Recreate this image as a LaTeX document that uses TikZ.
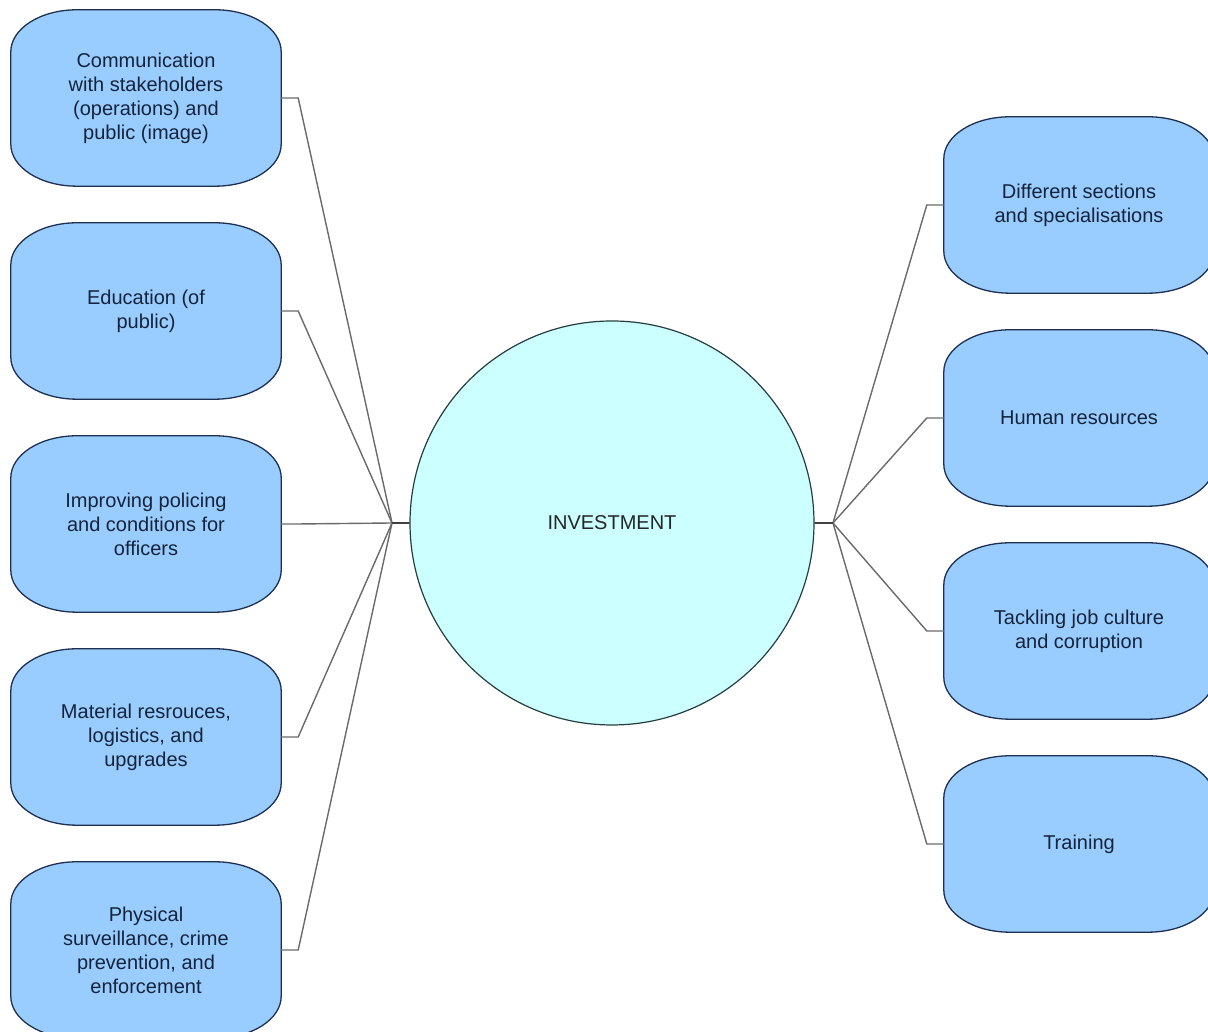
\documentclass[tikz,border=0pt]{standalone}
\usepackage{fontspec}
\setmainfont{Liberation Sans}
\usetikzlibrary{backgrounds}
\definecolor{boxfill}{HTML}{99CCFF}
\definecolor{boxedge}{HTML}{1E3050}
\definecolor{hubfill}{HTML}{CCFFFF}
\definecolor{hubedge}{HTML}{263D3D}
\definecolor{wire}{HTML}{6A6A6A}
\definecolor{ink}{HTML}{15243A}
\tikzset{
  topic/.style={minimum width=270pt, minimum height=176pt, inner sep=0pt,
    align=center, text=ink, font=\fontsize{20}{24}\selectfont},
  hub/.style={circle, minimum size=404pt, inner sep=0pt, fill=hubfill,
    draw=hubedge, line width=1.2pt, text=black!85,
    font=\fontsize{20}{24}\selectfont},
  boxline/.style={fill=boxfill, draw=boxedge, line width=1.3pt},
  wireline/.style={draw=wire, line width=1.4pt},
}
% rounded box with elliptical corners around a named node
\newcommand\softbox[1]{%
  \path[boxline] ([xshift=66pt]#1.north west) -- ([xshift=-66pt]#1.north east)
    arc[start angle=90, end angle=0, x radius=66pt, y radius=42pt]
    -- ([yshift=42pt]#1.south east)
    arc[start angle=0, end angle=-90, x radius=66pt, y radius=42pt]
    -- ([xshift=66pt]#1.south west)
    arc[start angle=270, end angle=180, x radius=66pt, y radius=42pt]
    -- ([yshift=-42pt]#1.north west)
    arc[start angle=180, end angle=90, x radius=66pt, y radius=42pt] -- cycle;}
\begin{document}
\begin{tikzpicture}[x=1pt, y=1pt]
\useasboundingbox (0,0) rectangle (1208,1032);

\node[hub] (inv) at (612,509) {INVESTMENT};

\node[topic] (l1) at (146,934) {Communication\\with stakeholders\\(operations) and\\public (image)};
\node[topic] (l2) at (146,721) {Education (of\\public)};
\node[topic] (l3) at (146,508) {Improving policing\\and conditions for\\officers};
\node[topic] (l4) at (146,295) {Material resrouces,\\logistics, and\\upgrades};
\node[topic] (l5) at (146,82) {Physical\\surveillance, crime\\prevention, and\\enforcement};

\node[topic] (r1) at (1079,827) {Different sections\\and specialisations};
\node[topic] (r2) at (1079,614) {Human resources};
\node[topic] (r3) at (1079,401) {Tackling job culture\\and corruption};
\node[topic] (r4) at (1079,188) {Training};

\coordinate (jl) at (392,509);
\coordinate (jr) at (833,509);

\begin{scope}[on background layer]
  \foreach \n in {l1,l2,l3,l4,l5,r1,r2,r3,r4} {\softbox{\n}}
  \foreach \n in {l1,l2,l3,l4,l5}
    \draw[wireline] (\n.east) -- ++(17,0) -- (jl) -- (inv.west);
  \foreach \n in {r1,r2,r3,r4}
    \draw[wireline] (\n.west) -- ++(-17,0) -- (jr) -- (inv.east);
  \draw[wireline, draw=black!75, line width=2.2pt] (jl) -- (inv.west);
  \draw[wireline, draw=black!75, line width=2.2pt] (jr) -- (inv.east);
\end{scope}
\end{tikzpicture}
\end{document}
